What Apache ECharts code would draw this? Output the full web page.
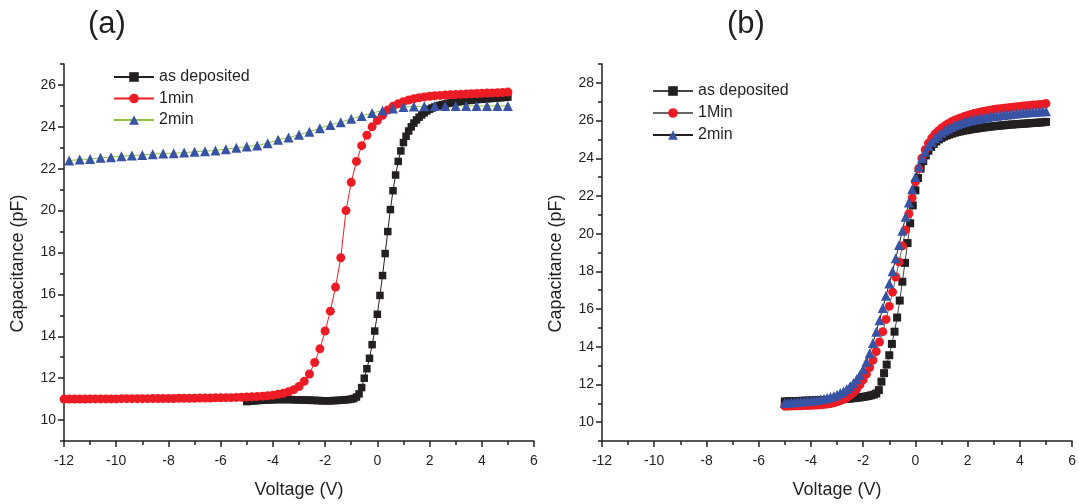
<!DOCTYPE html>
<html>
<head>
<meta charset="utf-8">
<script src="https://cdn.jsdelivr.net/npm/echarts@6/dist/echarts.min.js"></script>
<style>
html,body{margin:0;padding:0;background:#fff;}
#c{width:1079px;height:504px;}
</style>
</head>
<body>
<div id="c"></div>
<script>
// ---------- DATA ----------
const xTicks = [-12,-10,-8,-6,-4,-2,0,2,4,6];
const yTicksA = [10,12,14,16,18,20,22,24,26];
const yTicksB = [10,12,14,16,18,20,22,24,26,28];

// Panel (a)
const aDepStart = -5, aDepStep = 0.1;
const aDep = [10.88,10.9,10.91,10.92,10.93,10.94,10.95,10.96,10.96,10.97,
  10.97,10.98,10.98,10.98,10.98,10.98,10.98,10.98,10.97,10.97,
  10.97,10.96,10.96,10.95,10.95,10.94,10.94,10.93,10.93,10.92,
  10.92,10.92,10.92,10.93,10.93,10.94,10.95,10.96,10.97,10.98,
  11.0,11.03,11.1,11.25,11.55,12.0,12.45,12.95,13.6,14.25,
  15.05,15.95,16.9,17.95,19.0,20.05,20.95,21.7,22.35,22.85,
  23.25,23.55,23.8,24.0,24.18,24.33,24.46,24.57,24.67,24.76,
  24.84,24.9,24.95,24.99,25.03,25.06,25.09,25.12,25.14,25.16,
  25.18,25.2,25.22,25.23,25.25,25.26,25.28,25.29,25.3,25.31,
  25.32,25.33,25.34,25.35,25.36,25.37,25.38,25.39,25.4,25.41,25.42];
const a1minStart = -12, a1minStep = 0.2;
const a1min = [11.0,11.0,11.0,11.0,11.0,11.01,11.01,11.01,11.01,11.01,
  11.01,11.02,11.02,11.02,11.02,11.02,11.02,11.03,11.03,11.03,
  11.03,11.03,11.04,11.04,11.04,11.04,11.05,11.05,11.05,11.06,
  11.06,11.07,11.07,11.08,11.09,11.1,11.11,11.12,11.14,11.16,
  11.19,11.23,11.28,11.35,11.45,11.6,11.85,12.2,12.75,13.4,
  14.25,15.2,16.35,17.75,20.0,21.35,22.35,23.1,23.6,24.0,
  24.3,24.55,24.8,24.98,25.1,25.2,25.28,25.34,25.39,25.43,
  25.46,25.48,25.5,25.52,25.53,25.54,25.55,25.57,25.58,25.59,
  25.6,25.61,25.62,25.63,25.64,25.66];
const a2minStart = -11.8, a2minStep = 0.4;
const a2min = [22.39,22.44,22.47,22.52,22.55,22.60,22.63,22.66,22.69,22.73,
  22.74,22.77,22.81,22.84,22.87,22.93,23.0,23.06,23.11,23.22,
  23.38,23.49,23.62,23.77,23.93,24.09,24.22,24.38,24.52,24.66,
  24.78,24.87,24.95,24.97,24.98,25.0,25.0,25.0,25.0,25.0,
  25.0,25.0,25.0];

// Panel (b)
const bDepStart = -5, bDepStep = 0.1;
const bDep = [11.10,11.10,11.11,11.11,11.12,11.12,11.13,11.13,11.14,11.14,
  11.15,11.15,11.16,11.16,11.17,11.17,11.18,11.18,11.19,11.19,
  11.2,11.21,11.22,11.23,11.24,11.25,11.27,11.28,11.3,11.32,
  11.34,11.36,11.39,11.42,11.46,11.52,11.7,12.15,12.6,13.05,
  13.55,14.15,14.8,15.55,16.45,17.45,18.45,19.5,20.55,21.5,
  22.3,22.95,23.45,23.85,24.15,24.4,24.6,24.76,24.89,25.0,
  25.08,25.15,25.21,25.26,25.31,25.35,25.39,25.42,25.45,25.48,
  25.5,25.53,25.55,25.57,25.59,25.61,25.63,25.65,25.67,25.68,
  25.7,25.71,25.73,25.74,25.75,25.77,25.78,25.79,25.8,25.81,
  25.82,25.83,25.84,25.85,25.86,25.87,25.88,25.89,25.9,25.91,25.93];
const b1minStart = -5, b1minStep = 0.125;
const b1min = [10.85,10.85,10.86,10.86,10.87,10.87,10.88,10.88,10.89,10.9,
  10.91,10.92,10.94,10.96,10.99,11.03,11.08,11.14,11.21,11.3,
  11.42,11.57,11.76,11.98,12.24,12.55,12.9,13.3,13.75,14.25,
  14.8,15.45,16.15,16.9,17.7,18.5,19.35,20.2,21.05,21.9,
  22.75,23.45,24.0,24.45,24.8,25.07,25.28,25.45,25.6,25.72,
  25.83,25.93,26.01,26.08,26.15,26.21,26.27,26.32,26.37,26.41,
  26.45,26.49,26.52,26.55,26.58,26.61,26.63,26.65,26.67,26.69,
  26.71,26.73,26.75,26.77,26.78,26.8,26.82,26.83,26.85,26.87,26.9];
const b2minStart = -5, b2minStep = 0.125;
const b2min = [11.02,11.03,11.05,11.06,11.08,11.09,11.11,11.12,11.14,11.16,
  11.18,11.21,11.24,11.28,11.33,11.39,11.46,11.54,11.64,11.76,
  11.9,12.07,12.27,12.5,12.8,13.2,13.65,14.2,14.8,15.4,
  16.05,16.7,17.35,18.0,18.7,19.4,20.15,20.9,21.65,22.35,
  23.0,23.55,24.0,24.35,24.65,24.88,25.06,25.2,25.35,25.47,
  25.57,25.66,25.74,25.81,25.87,25.92,25.97,26.01,26.05,26.09,
  26.12,26.15,26.18,26.21,26.24,26.26,26.28,26.3,26.32,26.34,
  26.36,26.38,26.4,26.41,26.43,26.44,26.46,26.47,26.48,26.49,26.5];

// ---------- CHART ----------
function pts(x0, step, ys){ return ys.map((y,i)=>[+(x0+i*step).toFixed(3), y]); }
const odd = (a,b)=>{const r=[];for(let v=a;v<=b;v+=2)r.push(v);return r;};

const INK = '#231f20', RED = '#ed1c24', BLUE = '#3953a4', GREEN = '#8cc63f';
const FONT = 'Liberation Sans, Arial, sans-serif';

const grids = [
  {left:64, top:64, width:470, height:379},
  {left:602, top:64, width:471, height:379}
];

function xAxis(gi){
  return {
    type:'value', gridIndex:gi, min:-12, max:6, interval:2,
    name:'Voltage (V)', nameLocation:'middle', nameGap:40,
    nameTextStyle:{fontFamily:FONT, fontSize:18, color:INK},
    axisLine:{show:true, onZero:false, lineStyle:{color:INK, width:1.5}},
    axisTick:{show:true, length:6, lineStyle:{color:INK, width:1.5}},
    minorTick:{show:true, splitNumber:2, length:4, lineStyle:{color:INK, width:1.5}},
    axisLabel:{fontFamily:FONT, fontSize:14, color:INK, margin:13},
    splitLine:{show:false}
  };
}
function yAxisMain(gi, max, ticks){
  return {
    type:'value', gridIndex:gi, min:9, max:max,
    name:'Capacitance (pF)', nameLocation:'middle', nameGap:37,
    nameTextStyle:{fontFamily:FONT, fontSize:18, color:INK, padding:[0,22,0,0]},
    axisLine:{show:true, onZero:false, lineStyle:{color:INK, width:1.5}},
    axisTick:{show:true, length:6, customValues:ticks, lineStyle:{color:INK, width:1.5}},
    axisLabel:{fontFamily:FONT, fontSize:14, color:INK, margin:8, customValues:ticks},
    splitLine:{show:false}
  };
}
function yAxisMinor(gi, max){
  return {
    type:'value', gridIndex:gi, min:9, max:max, position:'left',
    axisLine:{show:false, onZero:false},
    axisTick:{show:true, length:4, customValues:odd(9,max), lineStyle:{color:INK, width:1.5}},
    axisLabel:{show:false},
    splitLine:{show:false}
  };
}

function ser(name, gi, yi, data, symbol, size, color, lineColor){
  return {
    type:'line', name:name, xAxisIndex:gi, yAxisIndex:yi, data:data,
    symbol:symbol, symbolSize:size, showSymbol:true,
    itemStyle:{color:color}, lineStyle:{color:lineColor, width:1},
    emphasis:{disabled:true}, animation:false
  };
}

const option = {
  animation:false,
  textStyle:{fontFamily:FONT},
  title:[
    {text:'(a)', left:83, top:4, textStyle:{fontFamily:FONT, fontSize:31, fontWeight:'normal', color:INK}},
    {text:'(b)', left:722, top:4, textStyle:{fontFamily:FONT, fontSize:31, fontWeight:'normal', color:INK}}
  ],
  grid:grids,
  xAxis:[xAxis(0), xAxis(1)],
  yAxis:[yAxisMain(0,27,yTicksA), yAxisMinor(0,27), yAxisMain(1,29,yTicksB), yAxisMinor(1,29)],
  legend:[
    {data:['as deposited','1min','2min'], orient:'vertical', left:108, top:64,
     itemWidth:40, itemHeight:12, itemGap:5.5,
     textStyle:{fontFamily:FONT, fontSize:16, color:INK, lineHeight:16}},
    {data:['b:as deposited','b:1Min','b:2min'], orient:'vertical', left:647, top:78,
     itemWidth:40, itemHeight:12, itemGap:6,
     formatter:function(n){return n.replace(/^b:/,'');},
     textStyle:{fontFamily:FONT, fontSize:16, color:INK, lineHeight:16}}
  ],
  series:[
    ser('as deposited',0,0,pts(aDepStart,aDepStep,aDep),'rect',7.5,INK,INK),
    ser('1min',0,0,pts(a1minStart,a1minStep,a1min),'circle',9,RED,RED),
    ser('2min',0,0,pts(a2minStart,a2minStep,a2min),'triangle',10,BLUE,GREEN),
    ser('b:as deposited',1,2,pts(bDepStart,bDepStep,bDep),'rect',8,INK,'#444444'),
    ser('b:1Min',1,2,pts(b1minStart,b1minStep,b1min),'circle',9,RED,'#666666'),
    ser('b:2min',1,2,pts(b2minStart,b2minStep,b2min),'triangle',10,BLUE,INK)
  ]
};

const chart = echarts.init(document.getElementById('c'), null, {renderer:'canvas'});
chart.setOption(option);
</script>
</body>
</html>
